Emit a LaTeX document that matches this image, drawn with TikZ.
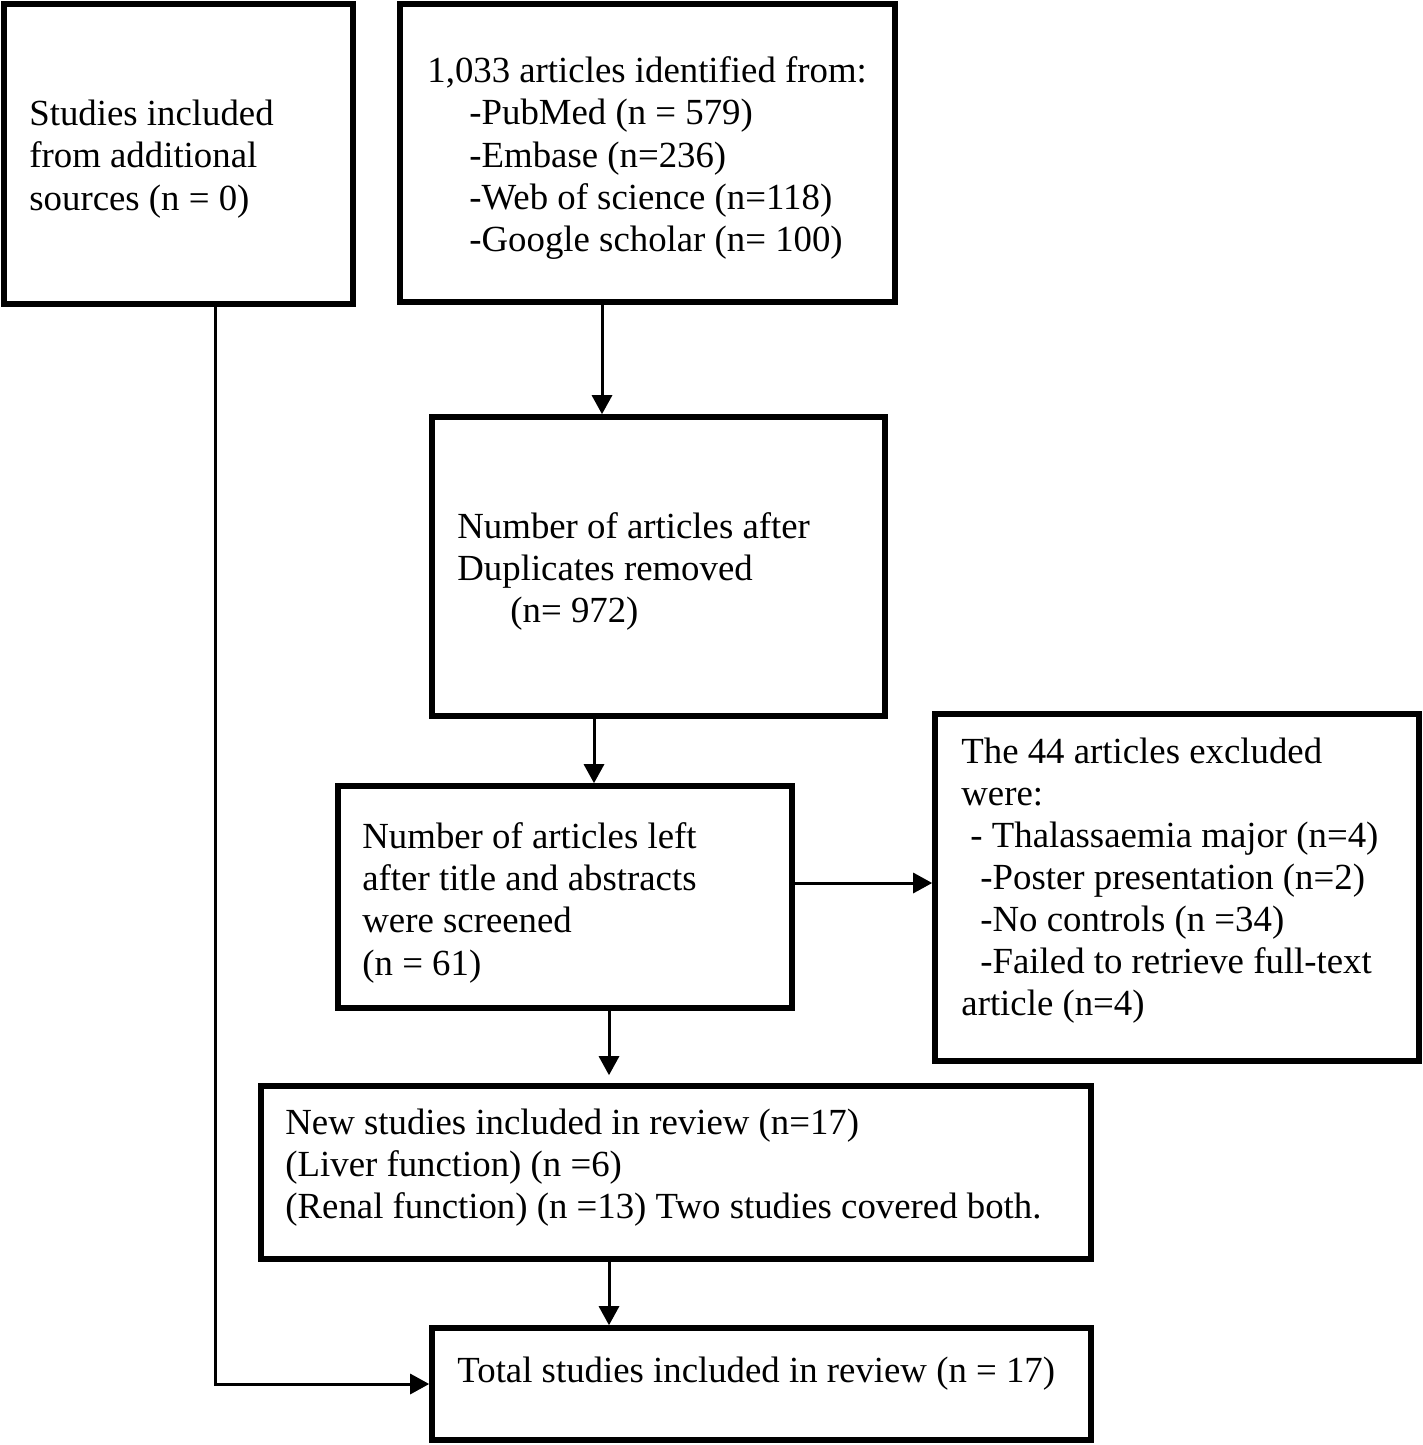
\documentclass[tikz,border=0pt]{standalone}
\usepackage{fontspec}
\setmainfont{Liberation Serif}
\usetikzlibrary{arrows.meta,fit}
\begin{document}
\begin{tikzpicture}[x=0.5pt,y=-0.5pt,
  box/.style={draw,line width=2.8pt,inner sep=0pt,rectangle},
  txt/.style={anchor=base west,inner sep=0pt,font=\fontsize{18.4}{21}\selectfont},
  arr/.style={line width=1.5pt,-{Triangle[length=9.5pt,width=10pt]}},
  link/.style={line width=1.5pt}]
\useasboundingbox (0,0) rectangle (1423,1445);

% boxes
\node[box,fit={(4,4) (353,304)}] (src) {};
\node[box,fit={(400,4) (895,302)}] (ident) {};
\node[box,fit={(432,417) (885,716)}] (dup) {};
\node[box,fit={(338,786) (792,1008)}] (scr) {};
\node[box,fit={(935,714) (1419,1061)}] (exc) {};
\node[box,fit={(261,1086) (1091,1259)}] (new) {};
\node[box,fit={(432,1328) (1091,1440)}] (tot) {};

% texts
\node[txt] (src1) at (29,126) {Studies included};
\node[txt] (src2) at (29,168) {from additional};
\node[txt] (src3) at (29,210) {sources (n = 0)};

\node[txt] (id1) at (427,83) {1,033 articles identified from:};
\node[txt] (id2) at (469,125) {-PubMed (n = 579)};
\node[txt] (id3) at (469,167) {-Embase (n=236)};
\node[txt] (id4) at (469,209) {-Web of science (n=118)};
\node[txt] (id5) at (469,251) {-Google scholar (n= 100)};

\node[txt] (du1) at (457,538) {Number of articles after};
\node[txt] (du2) at (457,580) {Duplicates removed};
\node[txt] (du3) at (510,622) {(n= 972)};

\node[txt] (sc1) at (362,848) {Number of articles left};
\node[txt] (sc2) at (362,890) {after title and abstracts};
\node[txt] (sc3) at (362,932) {were screened};
\node[txt] (sc4) at (362,975) {(n = 61)};

\node[txt] (ex1) at (961,763) {The 44 articles excluded};
\node[txt] (ex2) at (961,805) {were:};
\node[txt] (ex3) at (970,847) {- Thalassaemia major (n=4)};
\node[txt] (ex4) at (980,889) {-Poster presentation (n=2)};
\node[txt] (ex5) at (980,931) {-No controls (n =34)};
\node[txt] (ex6) at (980,973) {-Failed to retrieve full-text};
\node[txt] (ex7) at (961,1015) {article (n=4)};

\node[txt] (nw1) at (285,1134) {New studies included in review (n=17)};
\node[txt] (nw2) at (285,1176) {(Liver function) (n =6)};
\node[txt] (nw3) at (285,1218) {(Renal function) (n =13) Two studies covered both.};

\node[txt] (to1) at (457,1382) {Total studies included in review (n = 17)};

% connector guides
\coordinate (c1) at (602,0);
\coordinate (c2) at (594,0);
\coordinate (c3) at (0,883);
\coordinate (c4) at (609,0);
\coordinate (c5) at (215,0);
\coordinate (c6) at (0,1384);

% connectors
\draw[arr] (ident.south -| c1) -- (dup.north -| c1);
\draw[arr] (dup.south -| c2) -- (scr.north -| c2);
\draw[arr] (scr.east |- c3) -- (exc.west |- c3);
\draw[arr,shorten >=4pt] (scr.south -| c4) -- (new.north -| c4);
\draw[arr] (new.south -| c4) -- (tot.north -| c4);
\draw[arr] (src.south -| c5) -- (c5 |- c6) -- (tot.west |- c6);
\end{tikzpicture}
\end{document}
